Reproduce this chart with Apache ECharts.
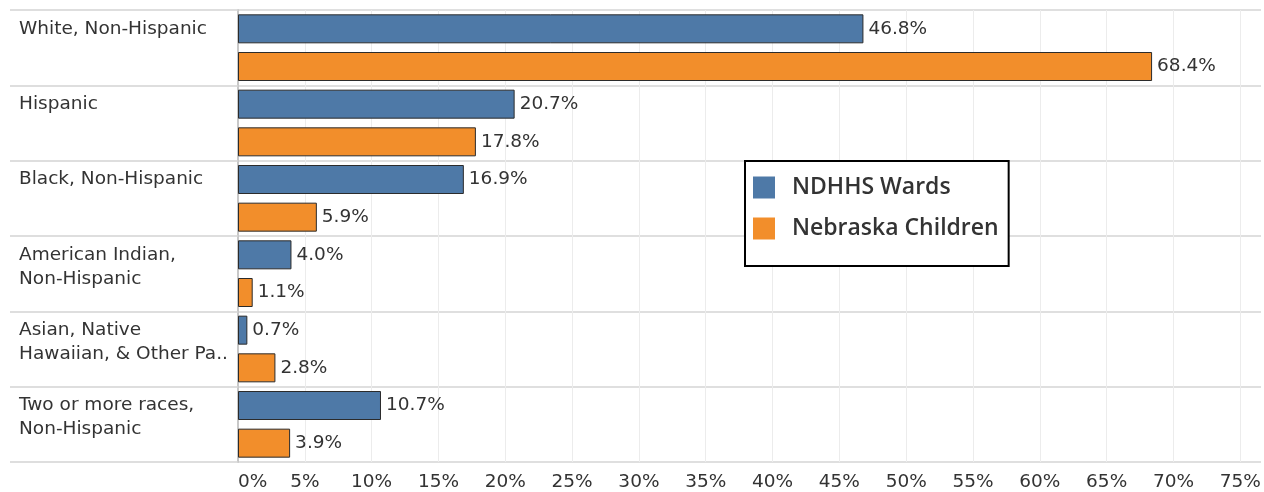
<!DOCTYPE html>
<html>
<head>
<meta charset="utf-8">
<script src="https://cdn.jsdelivr.net/npm/echarts@6/dist/echarts.min.js"></script>
<style>
  html, body { margin: 0; padding: 0; background: #fff; }
  #main { width: 1264px; height: 492px; }
</style>
</head>
<body>
<div id="main"></div>
<script>
// groups, top to bottom
var categories = [
  'White, Non-Hispanic',
  'Hispanic',
  'Black, Non-Hispanic',
  'American Indian,\nNon-Hispanic',
  'Asian, Native\nHawaiian, & Other Pa..',
  'Two or more races,\nNon-Hispanic'
];
var seriesNames = ['NDHHS Wards', 'Nebraska Children'];
var wards = [46.8, 20.7, 16.9, 4.0, 0.7, 10.7];
var children = [68.4, 17.8, 5.9, 1.1, 2.8, 3.9];

var BLUE = '#4e79a7';
var ORANGE = '#f28e2b';
var FONT = 'DejaVu Sans';

// every group takes two rows: wards bar then children bar
var rowKeys = [];
var wardsRows = [];
var childRows = [];
categories.forEach(function (c, i) {
  rowKeys.push(c, '#' + i);
  wardsRows.push(wards[i], '-');
  childRows.push('-', children[i]);
});

var chart = echarts.init(document.getElementById('main'));

function barSeries(name, data, color) {
  return {
    name: name,
    type: 'bar',
    stack: 'rows',
    data: data,
    barWidth: 29,
    itemStyle: { color: color, borderColor: '#2b2b2b', borderWidth: 1 },
    label: {
      show: true,
      position: 'right',
      distance: 5,
      fontFamily: FONT,
      fontSize: 18.5,
      color: '#333',
      formatter: function (p) { return p.value.toFixed(1) + '%'; }
    }
  };
}

chart.setOption({
  animation: false,
  grid: { left: 238, right: 0, top: 10, bottom: 29 },
  legend: {
    data: seriesNames,
    orient: 'vertical',
    left: 745,
    top: 161,
    icon: 'rect',
    itemWidth: 22,
    itemHeight: 22,
    itemGap: 18,
    padding: [15, 10, 26, 8],
    borderColor: '#000',
    borderWidth: 2,
    backgroundColor: '#fff',
    itemStyle: { borderWidth: 0 },
    textStyle: {
      fontFamily: 'Open Sans',
      fontWeight: 600,
      fontSize: 23,
      color: '#333',
      padding: [0, 0, 0, 12]
    }
  },
  xAxis: {
    type: 'value',
    min: 0,
    max: 76.55,
    interval: 5,
    axisLine: { show: false },
    axisTick: { show: false },
    splitLine: { show: true, showMaxLine: false, lineStyle: { color: '#ececec', width: 1 } },
    axisLabel: {
      margin: 11,
      fontFamily: FONT,
      fontSize: 18.5,
      color: '#333',
      alignMinLabel: 'left',
      formatter: function (v) {
        return Math.abs(v - Math.round(v / 5) * 5) < 1e-6 ? v + '%' : '';
      }
    }
  },
  yAxis: {
    type: 'category',
    inverse: true,
    data: rowKeys,
    axisLine: { show: true, lineStyle: { color: '#c8c8c8', width: 2 } },
    axisTick: { show: true, interval: 1, length: 228, lineStyle: { color: '#d4d4d4', width: 1.5 } },
    splitLine: { show: true, interval: 1, lineStyle: { color: '#d4d4d4', width: 1.5 } },
    axisLabel: {
      interval: 1,
      align: 'left',
      margin: 219,
      verticalAlign: 'middle',
      lineHeight: 24,
      fontFamily: FONT,
      fontSize: 18.5,
      color: '#333',
      formatter: function (v) {
        if (v.charAt(0) === '#') return '';
        // keep first line on the row centre
        return v.indexOf('\n') >= 0 ? '\n' + v : v;
      }
    }
  },
  series: [
    barSeries(seriesNames[0], wardsRows, BLUE),
    barSeries(seriesNames[1], childRows, ORANGE)
  ]
});
</script>
</body>
</html>
